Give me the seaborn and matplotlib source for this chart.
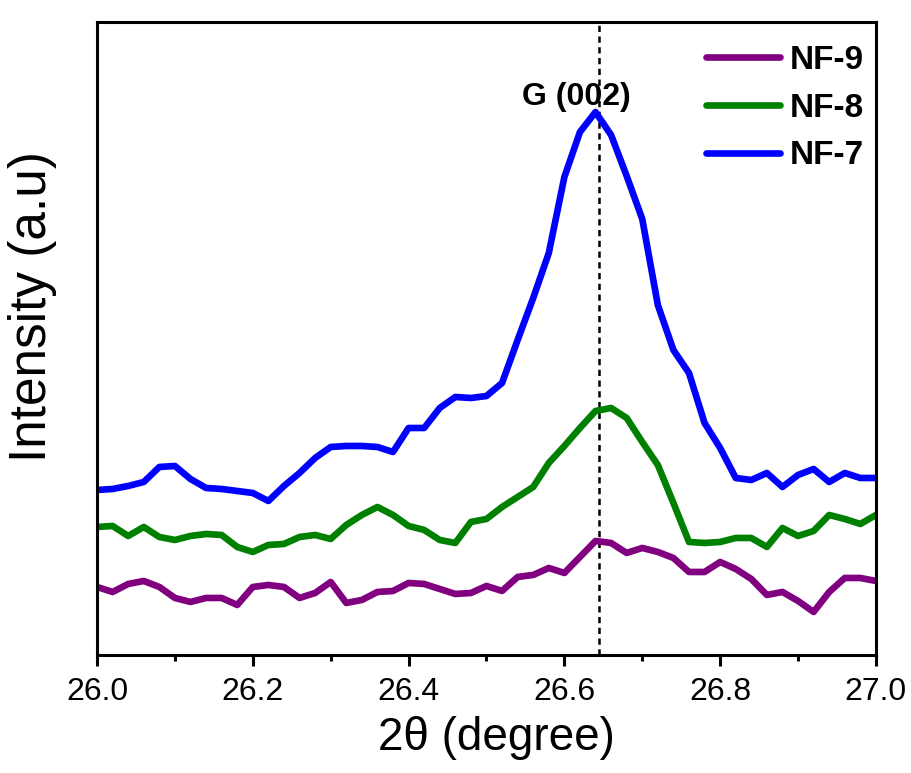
import numpy as np
import pandas as pd
import matplotlib
matplotlib.use("Agg")
import matplotlib.pyplot as plt
from matplotlib.ticker import MultipleLocator, FormatStrFormatter
import seaborn as sns

# 2-theta scan grid (step 0.02 deg)
two_theta = np.round(np.linspace(26.0, 27.0, 51), 2)

# Intensities (arbitrary units, offset for stacking)
nf7 = [165, 166, 169, 173, 188, 189, 176, 167, 166, 164, 162, 154, 169, 182, 197, 208, 209,
       209, 208, 203, 227, 227, 247, 258, 257, 259, 272, 315, 357, 402, 478, 523, 543, 520,
       479, 436, 350, 305, 282, 232, 207, 177, 175, 182, 168, 180, 186, 173, 182, 177, 177]
nf8 = [128, 129, 119, 128, 118, 115, 119, 121, 120, 108, 103, 110, 111, 118, 120, 116, 130,
       140, 148, 140, 129, 125, 115, 112, 133, 136, 148, 158, 168, 192, 209, 227, 244, 247,
       237, 213, 190, 152, 113, 112, 113, 117, 117, 108, 127, 119, 124, 140, 136, 131, 140]
nf9 = [68, 63, 71, 74, 68, 57, 53, 57, 57, 50, 68, 70, 68, 57, 62, 73, 52, 55, 63, 64, 72,
       71, 66, 61, 62, 69, 64, 78, 80, 87, 82, 98, 114, 112, 102, 107, 103, 97, 83, 83, 93,
       86, 76, 60, 63, 54, 43, 63, 77, 77, 74]

samples = ["NF-9", "NF-8", "NF-7"]
colors = ["#800080", "#008000", "#0000FF"]
peak_position = 26.645
peak_label = "G (002)"

df = pd.concat([
    pd.DataFrame({"two_theta": two_theta, "intensity": vals, "sample": name})
    for name, vals in zip(samples, [nf9, nf8, nf7])
])

sns.set_style("ticks")
plt.rcParams["font.family"] = ["Liberation Sans", "DejaVu Sans"]
plt.rcParams["text.color"] = "black"
plt.rcParams["axes.labelcolor"] = "black"
plt.rcParams["xtick.color"] = "black"
plt.rcParams["ytick.color"] = "black"
plt.rcParams["axes.edgecolor"] = "black"

fig = plt.figure(figsize=(9.11, 7.73), dpi=100)
ax = fig.add_axes([0.1065, 0.1527, 0.855, 0.8188])

sns.lineplot(data=df, x="two_theta", y="intensity", hue="sample",
             hue_order=samples, palette=colors, linewidth=4.8, ax=ax,
             estimator=None, sort=False)

ax.axvline(peak_position, color="black", linestyle=(0, (2.5, 1.8)), linewidth=1.8, zorder=1)
ax.text(26.615, 558, peak_label, ha="center", va="center",
        fontsize=23, fontweight="bold")

ax.set_xlim(26.0, 27.0)
ax.set_ylim(0, 633)
ax.xaxis.set_major_locator(MultipleLocator(0.2))
ax.xaxis.set_minor_locator(MultipleLocator(0.1))
ax.xaxis.set_major_formatter(FormatStrFormatter("%.1f"))
ax.set_yticks([])
ax.tick_params(axis="x", which="major", direction="out", length=8, width=2.2,
               labelsize=23, pad=8)
ax.tick_params(axis="x", which="minor", direction="out", length=4.5, width=2.2)
for side in ["left", "right", "top", "bottom"]:
    ax.spines[side].set_visible(True)
    ax.spines[side].set_linewidth(2.2)

ax.set_xlabel("2θ (degree)", fontsize=33)
ax.set_ylabel("Intensity (a.u)", fontsize=37)
ax.xaxis.set_label_coords(0.513, -0.097)
ax.yaxis.set_label_coords(-0.052, 0.55)

leg = ax.legend(loc="upper right", bbox_to_anchor=(1.006, 0.99), frameon=False,
                handlelength=2.2, handletextpad=0.3, labelspacing=0.5,
                borderaxespad=0.1, prop={"size": 24, "weight": "bold"})
for line in leg.get_lines():
    line.set_linewidth(4.8)
    line.set_solid_capstyle("round")

fig.savefig("out.png", dpi=100)
